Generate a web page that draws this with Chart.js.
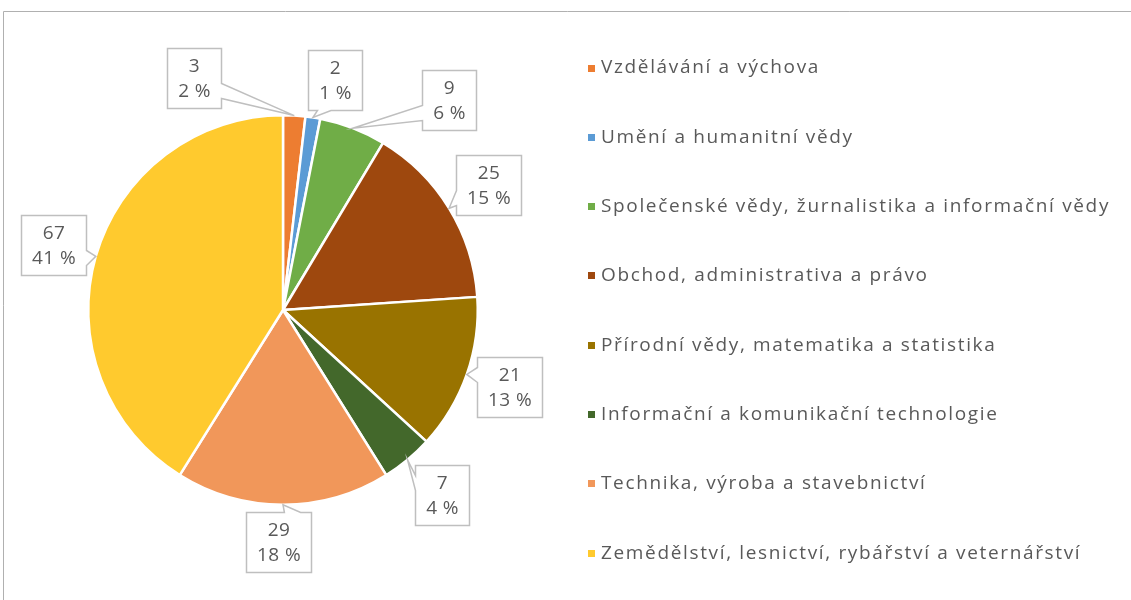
<!DOCTYPE html>
<html><head><meta charset="utf-8">
<script src="https://cdn.jsdelivr.net/npm/chart.js@4.4.1/dist/chart.umd.min.js"></script>
<style>html,body{margin:0;padding:0;background:#fff;overflow:hidden}#wrap{position:relative;width:1131px;height:600px}</style>
</head><body><div id="wrap"><canvas id="c" width="1131" height="600"></canvas></div>
<script>
const categories = [
  'Vzdělávání a výchova',
  'Umění a humanitní vědy',
  'Společenské vědy, žurnalistika a informační vědy',
  'Obchod, administrativa a právo',
  'Přírodní vědy, matematika a statistika',
  'Informační a komunikační technologie',
  'Technika, výroba a stavebnictví',
  'Zemědělství, lesnictví, rybářství a veternářství'
];
const values = [3, 2, 9, 25, 21, 7, 29, 67];
const colors = ['#ED7D31', '#5B9BD5', '#70AD47', '#9E480E', '#997300', '#43682B', '#F1975A', '#FFCA2E'];

// callout placement: angular shift (deg) from slice middle, distance beyond rim (px)
const labelShift = [-24.4, 3.8, 17.3, 0.2, -0.6, -0.9, 1.2, -0.2];
const labelGap = [54, 41, 73, 46, 44, 49, 37, 44];

const FONT = '19px "Open Sans", sans-serif';
const TEXT = '#595959';

const framePlugin = {
  id: 'frame',
  beforeDraw(chart) {
    const ctx = chart.ctx;
    ctx.save();
    ctx.strokeStyle = '#b0b0b0';
    ctx.lineWidth = 1;
    ctx.beginPath();
    ctx.moveTo(3.5, 600); ctx.lineTo(3.5, 11.5); ctx.lineTo(1131, 11.5);
    ctx.stroke();
    ctx.restore();
  }
};

const calloutPlugin = {
  id: 'callouts',
  afterDatasetsDraw(chart) {
    const ctx = chart.ctx;
    const meta = chart.getDatasetMeta(0);
    const data = chart.data.datasets[0].data;
    const total = data.reduce((a, b) => a + b, 0);
    ctx.save();
    ctx.font = FONT;
    ctx.letterSpacing = '0.4px';
    meta.data.forEach((arc, i) => {
      const p = arc.getProps(['x', 'y', 'startAngle', 'endAngle', 'outerRadius'], true);
      const mid = (p.startAngle + p.endAngle) / 2;
      const tip = { x: p.x + p.outerRadius * Math.cos(mid), y: p.y + p.outerRadius * Math.sin(mid) };
      const a = mid + labelShift[i] * Math.PI / 180;
      const d = p.outerRadius + labelGap[i];
      const cx = p.x + d * Math.cos(a), cy = p.y + d * Math.sin(a);
      const lines = [String(data[i]), Math.round(data[i] / total * 100) + ' %'];
      const tw = Math.max(...lines.map(l => ctx.measureText(l).width));
      const w = Math.round(tw + 21), h = 60;
      const L = Math.round(cx - w / 2) + 0.5, T = Math.round(cy - h / 2) + 0.5, R = L + w, B = T + h;
      const dx = tip.x - (L + w / 2), dy = tip.y - (T + h / 2);
      let side;
      if (Math.abs(dx) / w > Math.abs(dy) / h) side = dx > 0 ? 'r' : 'l';
      else side = dy > 0 ? 'b' : 't';
      ctx.beginPath();
      ctx.moveTo(L, T);
      if (side === 't') {
        const f = dx > 0 ? [7, 10] : [2, 5];
        ctx.lineTo(L + w * f[0] / 12, T); ctx.lineTo(tip.x, tip.y); ctx.lineTo(L + w * f[1] / 12, T);
      }
      ctx.lineTo(R, T);
      if (side === 'r') {
        const f = dy > 0 ? [7, 10] : [2, 5];
        ctx.lineTo(R, T + h * f[0] / 12); ctx.lineTo(tip.x, tip.y); ctx.lineTo(R, T + h * f[1] / 12);
      }
      ctx.lineTo(R, B);
      if (side === 'b') {
        const f = dx > 0 ? [7, 10] : [2, 5];
        ctx.lineTo(L + w * f[1] / 12, B); ctx.lineTo(tip.x, tip.y); ctx.lineTo(L + w * f[0] / 12, B);
      }
      ctx.lineTo(L, B);
      if (side === 'l') {
        const f = dy > 0 ? [7, 10] : [2, 5];
        ctx.lineTo(L, T + h * f[1] / 12); ctx.lineTo(tip.x, tip.y); ctx.lineTo(L, T + h * f[0] / 12);
      }
      ctx.closePath();
      ctx.fillStyle = '#ffffff';
      ctx.fill();
      ctx.strokeStyle = '#bfbfbf';
      ctx.lineWidth = 1.5;
      ctx.stroke();
      ctx.fillStyle = TEXT;
      ctx.textAlign = 'center';
      ctx.textBaseline = 'middle';
      ctx.fillText(lines[0], L + w / 2, T + h / 2 - 12);
      ctx.fillText(lines[1], L + w / 2, T + h / 2 + 13);
    });
    ctx.restore();
  }
};

const legendPlugin = {
  id: 'sideLegend',
  afterDraw(chart, args, opts) {
    const ctx = chart.ctx;
    const bg = chart.data.datasets[0].backgroundColor;
    const labels = chart.data.labels;
    ctx.save();
    ctx.font = FONT;
    ctx.letterSpacing = '0px';
    let longest = 0, idx = 0;
    labels.forEach((l, i) => { const m = ctx.measureText(l).width; if (m > longest) { longest = m; idx = i; } });
    const ls = Math.max(0, (opts.maxWidth - longest) / labels[idx].length);
    ctx.letterSpacing = ls.toFixed(2) + 'px';
    ctx.textBaseline = 'middle';
    ctx.textAlign = 'left';
    labels.forEach((lab, i) => {
      const y = opts.top + i * opts.step;
      ctx.fillStyle = bg[i];
      ctx.fillRect(opts.x, Math.round(y - 3.5), 7, 7);
      ctx.fillStyle = TEXT;
      ctx.fillText(lab, opts.x + 13, y);
    });
    ctx.restore();
  }
};

new Chart(document.getElementById('c'), {
  type: 'pie',
  data: {
    labels: categories,
    datasets: [{
      data: values,
      backgroundColor: colors,
      borderColor: '#ffffff',
      borderWidth: 2.5
    }]
  },
  options: {
    responsive: false,
    animation: false,
    layout: { padding: { left: 87, right: 652, top: 114, bottom: 94 } },
    plugins: {
      legend: { display: false },
      tooltip: { enabled: false },
      sideLegend: { x: 588, top: 68, step: 69.3, maxWidth: 509 }
    }
  },
  plugins: [framePlugin, calloutPlugin, legendPlugin]
});
</script>
</body></html>
